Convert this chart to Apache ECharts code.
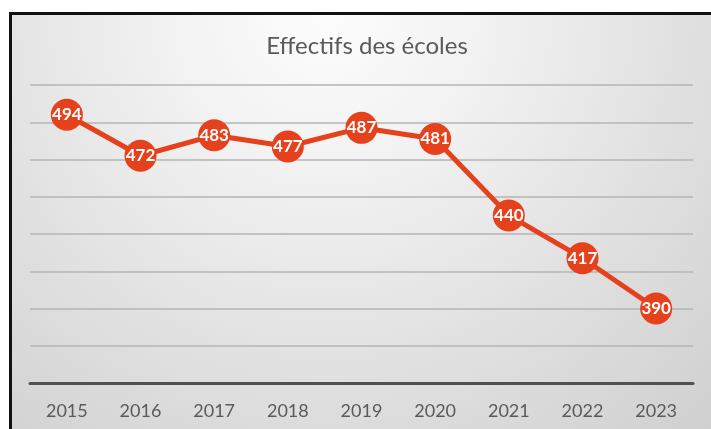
<!DOCTYPE html>
<html><head><meta charset="utf-8">
<script src="https://cdn.jsdelivr.net/npm/echarts@6/dist/echarts.min.js"></script>
<style>html,body{margin:0;padding:0;background:#fff}#c{width:711px;height:429px}</style>
</head><body><div id="c"></div>
<script>
const titleText = "Effectifs des écoles";
const years = ["2015","2016","2017","2018","2019","2020","2021","2022","2023"];
const effectifs = [494, 472, 483, 477, 487, 481, 440, 417, 390];
const yMin = 350, yMax = 510, yStep = 20;

const chart = echarts.init(document.getElementById('c'), null, {renderer:'canvas'});
chart.setOption({
  backgroundColor: '#ffffff',
  animation: false,
  graphic: [
    {type:'rect', z:-10, silent:true, shape:{x:10, y:13, width:701, height:416},
     style:{fill:{type:'radial', x:0.45, y:0.0, r:1.35, colorStops:[
       {offset:0, color:'#fdfdfd'},{offset:0.3, color:'#f1f1f1'},{offset:0.65, color:'#e0e0e0'},{offset:1, color:'#d0d0d0'}]}}},
    {type:'rect', z:-5, silent:true, shape:{x:9, y:12, width:702, height:3}, style:{fill:'#111'}},
    {type:'rect', z:-5, silent:true, shape:{x:9, y:12, width:3, height:417}, style:{fill:'#111'}}
  ],
  title: {text: titleText, left: 362, top: 29, textAlign:'center',
    textStyle:{fontFamily:'Lato', fontSize:24, fontWeight:'normal', color:'#595959'}},
  grid: {left:30, right:18, top:85, bottom:46},
  xAxis: {type:'category', data: years, boundaryGap:true,
    axisLine:{lineStyle:{color:'#505050', width:3}},
    axisTick:{show:false},
    axisLabel:{fontFamily:'Lato', fontSize:18, color:'#5a5a5a', margin:19}},
  yAxis: {type:'value', min:yMin, max:yMax, interval:yStep,
    axisLabel:{show:false}, axisLine:{show:false}, axisTick:{show:false},
    splitLine:{lineStyle:{color:'#b4b4b4', width:1.5}}},
  series: [{
    type:'line', data: effectifs,
    symbol:'circle', symbolSize:32,
    lineStyle:{color:'#e5411c', width:5},
    itemStyle:{color:'#e5411c'},
    label:{show:true, position:'inside', color:'#ffffff', fontFamily:'Lato', fontWeight:'bold', fontSize:17}
  }]
});
</script></body></html>
